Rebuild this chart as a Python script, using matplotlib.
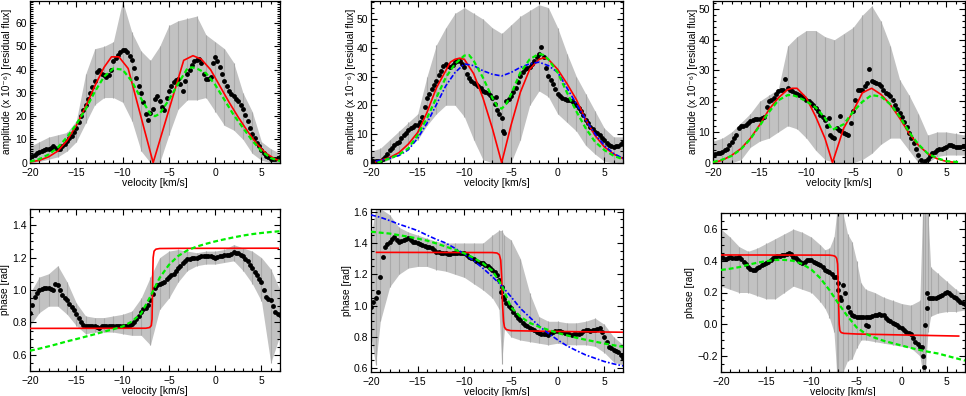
import numpy as np
import matplotlib
matplotlib.use('Agg')
import matplotlib.pyplot as plt
from matplotlib.ticker import MultipleLocator

plt.rcParams['font.family'] = ['Liberation Sans', 'DejaVu Sans']
plt.rcParams['font.size'] = 7.5

# velocity grid of the measured points (km/s), one point every 0.25 km/s
vel = np.arange(-20, 7.001, 0.25)

# ---------------- Panel 1 (top-left, amplitude) ----------------
p1_band_x = [-20, -19, -18, -17, -16, -15, -14, -13, -12, -11, -10, -9, -8, -7, -6, -5, -4, -3, -2, -1, 0, 1, 2, 3, 4, 5, 6, 7]
p1_band_hi = [7, 9, 11, 12, 13, 18, 38, 49, 50, 52, 69.5, 56, 48, 44, 50, 59, 61, 62, 63, 55, 52, 49, 43, 30, 22, 9, 6, 4]
p1_band_lo = [0, 0.5, 1.5, 2.5, 5, 9, 17, 25, 28, 28, 26, 18, 5, 0, 0, 12, 23, 27, 27, 28, 22, 16, 14, 10, 4, 1, 0, 0]
p1_dot_y = [2.4, 3, 3.5, 4,
            4.5, 5, 5.5, 5.8,
            6, 6.5, 7, 6.5,
            5.8, 6, 7, 8,
            9.5, 10.5, 11.5, 13,
            15, 17.5, 20, 22.5,
            25, 27.5, 30, 32.5,
            35, 39, 40, 38,
            37.5, 37, 37.5, 40,
            43.5, 45, 46.5, 47.5,
            48.5, 48.5, 47.5, 46,
            44, 40.5, 36.5, 33,
            30, 26, 21, 18.5,
            21.5, 23, 27.5, 28.5,
            26.5, 24, 22.5, 28,
            31, 33, 34.5, 35.5,
            36, 34, 31, 35,
            38, 40, 42, 43.5,
            44, 44.5, 43, 38,
            36, 36, 37, 43,
            45.5, 43.5, 41, 38,
            35, 33, 31, 29.5,
            28.5, 27.5, 26.5, 25,
            23, 20.5, 18, 15,
            12.5, 10.5, 8.5, 7,
            5.5, 4, 3, 2.3,
            1.8, 1.7, 1.8, 2,
            2.4]
p1_red_x = [-20, -19, -18, -17, -16, -15, -14, -13, -12, -11.2, -10.4, -9.4, -6.7, -3.4, -2.4, -1.5, -0.5, 0.5, 1.5, 2.5,
            3.5, 4.5, 5.5, 6.5, 7]
p1_red_y = [0.3, 1, 2.5, 5, 9.5, 16, 24, 33, 41, 45.5, 45.5, 40.5, 0, 44, 46, 44.5, 40, 33, 26, 19.5, 13.5, 8, 4, 1.5, 0.8]
p1_grn_x = [-20, -19, -18, -17, -16, -15, -14, -13, -12, -11, -10, -9, -8, -7, -6.5, -6, -5, -4, -3, -2.5, -2, -1, 0,
            1, 2, 3, 4, 5, 6, 7]
p1_grn_y = [0.5, 1.5, 3.5, 6.5, 11, 16.5, 23, 30.5, 37, 40.5, 40, 35, 27.5, 21, 20, 21, 27, 34, 40.5, 41, 40.5, 38.5,
            33.5, 27, 20.5, 15, 9.5, 5, 2, 0.7]

# ---------------- Panel 2 (top-middle, amplitude) ----------------
p2_band_x = [-20, -19, -18, -17, -16, -15, -14, -13, -12, -11, -10, -9, -8, -7, -6, -5, -4, -3, -2, -1, 0, 1, 2, 3, 4, 5, 6, 7]
p2_band_hi = [4, 5, 8, 11, 14, 17, 30, 41, 47, 52, 54, 52, 50, 47, 45, 48, 51, 53, 55, 54, 47, 38, 30, 24, 18, 12, 9, 9]
p2_band_lo = [0, 0, 1, 3, 6, 8, 13, 17, 20, 20, 16, 8, 1, 0, 0, 0, 8, 20, 25, 23, 17, 14, 11, 6, 3, 0.5, 0, 0]
p2_dot_y = [0.8, 0.6, 0.5, 0.5,
            0.5, 1.2, 2, 3.2,
            4.4, 5.2, 6, 6.7,
            7.3, 8.5, 9.6, 10.5,
            11.4, 12, 12.6, 13,
            13.2, 14, 16, 19.5,
            22.6, 24, 25.5, 27,
            28.5, 30.5, 32, 33.5,
            34.4, 33.5, 33.2, 34,
            35, 35.3, 35.5, 34.5,
            33.2, 31, 29.6, 28.5,
            27.9, 27.3, 26.7, 26,
            25, 24.7, 24.4, 23.5,
            22.6, 20.5, 18.5, 17,
            15.5, 10.5, 21.4, 22.3,
            23.2, 24.5, 26, 28,
            30.2, 31.5, 32.6, 33,
            33.2, 34.3, 35.5, 36.7,
            37.9, 40.2, 36.7, 33,
            30.2, 28.7, 27.3, 25.5,
            23.8, 23.2, 22.6, 22.3,
            22, 21.7, 21.4, 20.8,
            20.2, 19, 17.9, 16.5,
            15, 13.8, 12.6, 11.7,
            10.8, 10.2, 9.6, 8.7,
            7.9, 7, 6.1, 5.8,
            5.5, 5.7, 5.9, 6.5,
            7.3]
p2_ext_x = [-6.6, -5.9]
p2_ext_y = [23, 11]
p2_red_x = [-19.5, -19, -18, -17, -16, -15, -14, -13, -12, -11.5, -11, -10.5, -10, -9, -8, -7, -6, -5, -4, -3, -2, -1.5,
            -1, 0, 1, 2, 3, 4, 5, 6, 7]
p2_red_y = [0.3, 0.8, 1.8, 3.5, 6.5, 10.5, 17.5, 26, 32, 35, 36, 36.4, 36, 31, 22.5, 12, 0, 13, 24.5, 32.5, 36, 36.5, 36,
            32.5, 27.5, 22, 15, 9.5, 5.5, 3, 1.4]
p2_grn_x = [-19.3, -18, -17, -16, -15, -14, -13, -12, -11, -10, -9.5, -9, -8, -7, -6.5, -6, -5.5, -5, -4, -3, -2, -1.5,
            -1, 0, 1, 2, 3, 4, 5, 6, 7]
p2_grn_y = [0, 1.5, 2.8, 5, 9.6, 15.5, 22.6, 29.6, 34.4, 37.3, 37.5, 35.5, 29.6, 22.6, 19.8, 18.8, 20.5, 23.8, 31.4, 36,
            37.9, 37.5, 36, 31.4, 24.4, 17.9, 12, 7.3, 4.4, 2.4, 1.2]
p2_blu_x = [-19.5, -18, -17, -16, -15, -14, -13, -12, -11, -10, -9, -8, -7, -6, -5, -4, -3, -2, -1, 0, 1, 2, 3, 4, 5, 6, 7]
p2_blu_y = [0.5, 1.5, 2.5, 4.5, 8.5, 13.8, 20.2, 26.7, 31.4, 34.4, 33.8, 32, 30.8, 30.2, 31.4, 33.2, 34.4, 35, 33.8, 31.5,
            26, 20.5, 15, 10, 6, 3.2, 1.5]

# ---------------- Panel 3 (top-right, amplitude) ----------------
p3_band_x = [-20, -19, -18, -17, -16, -15, -14, -13, -12, -11, -10, -9, -8, -7, -6, -5, -4, -3, -2, -1, 0, 1, 2, 3, 4, 5, 6, 7]
p3_band_hi = [7, 8, 10, 13, 16, 20, 22, 24, 38, 41, 43, 43, 41, 40, 42, 44, 48, 51, 46, 38, 27, 22, 16, 9, 10, 10, 9.5, 9]
p3_band_lo = [0, 0, 0, 1, 5, 7, 8, 10, 12, 11, 8, 4, 1, 0, 0, 0, 1, 3, 6, 8, 8, 4, 0, 0, 2, 2.5, 2.5, 2.5]
p3_dot_y = [2.4, 2.7, 3, 3.2,
            3.5, 4, 4.6, 5.6,
            6.8, 8, 9, 11.2,
            11.8, 12, 12.3, 13,
            13.6, 14, 14.3, 14.3,
            14.3, 14.6, 15, 18,
            20, 20.5, 21.1, 22.2,
            23.3, 23.6, 23.8, 27.1,
            24.2, 23.8, 23.3, 22.7,
            22.2, 21.9, 21.6, 21,
            20.5, 20, 19.5, 18.7,
            17.8, 16.7, 15.6, 14.8,
            14, 12, 9, 8.5,
            7.9, 11.2, 10.7, 10.2,
            9.6, 9.3, 9, 13,
            16.7, 20.5, 23.8, 23.8,
            23.8, 25, 26, 30.4,
            26.6, 26.3, 26, 25.5,
            25, 23.8, 22.7, 22.2,
            21.6, 20.3, 18.9, 17.5,
            16.2, 14.8, 13.4, 11.5,
            9.6, 8, 6.3, 4.3,
            2.4, 0.8, -0.5, 0.5,
            1.3, 2.2, 3, 3.5,
            4, 4.3, 4.6, 4.9,
            5.2, 5.6, 5.9, 5.5,
            5.2, 5.2, 5.2, 5.3,
            5.5]
p3_ext_x = [-6.4, -7.6]
p3_ext_y = [15.2, 14.5]
p3_red_x = [-20, -19, -18, -17, -16, -15, -14, -13, -12, -11.5, -11, -10, -9, -8, -7.2, -6, -5, -4, -3.5, -3, -2, -1,
            0, 1, 2, 3, 4, 5, 6]
p3_red_y = [0, 0.8, 2.4, 4.6, 7.9, 12.3, 17.3, 21.1, 23.8, 24.2, 24.2, 21.1, 15, 7.9, 0, 11.2, 16.7, 22.7, 23.5, 24.2,
            22.2, 18.9, 14.5, 9.6, 5.7, 3, 1.3, 0.4, 0.1]
p3_grn_x = [-20, -19, -18, -17, -16, -15, -14, -13, -12, -11.5, -11, -10, -9, -8, -7.2, -6, -5, -4, -3, -2, -1, 0, 1,
            2, 3, 4, 5, 6.3]
p3_grn_y = [0.2, 1, 2.2, 4.4, 7.7, 12, 16.5, 20.3, 22, 22, 21.5, 20, 18, 14.5, 10.7, 12.5, 16.5, 19.8, 22, 21.5, 19, 15,
            10, 6, 3, 1.5, 0.5, 0.2]

# ---------------- Panel 4 (bottom-left, phase) ----------------
p4_band_x = [-20, -19, -18, -17, -16, -15, -14, -13, -12, -11, -10, -9, -8, -7, -6, -5, -4, -3, -2, -1, 0, 1, 2, 3, 4, 5, 6, 7]
p4_band_hi = [0.98, 1.08, 1.10, 1.15, 1.05, 0.92, 0.84, 0.83, 0.83, 0.84, 0.85, 0.87, 0.95, 1.08, 1.20, 1.24, 1.25,
              1.24, 1.23, 1.24, 1.24, 1.25, 1.28, 1.26, 1.24, 1.20, 1.13, 1.00]
p4_band_lo = [0.78, 0.86, 0.90, 0.90, 0.85, 0.78, 0.73, 0.74, 0.74, 0.74, 0.73, 0.72, 0.72, 0.66, 0.88, 0.95, 1.05,
              1.12, 1.15, 1.16, 1.16, 1.17, 1.18, 1.12, 1.04, 0.93, 0.55, 0.72]
p4_dot_y = [0.86, 0.91, 0.958, 0.98,
            1.0, 1.005, 1.01, 1.012,
            1.013, 1.005, 1.0, 1.04,
            1.03, 1.0, 0.968, 0.95,
            0.937, 0.915, 0.895, 0.875,
            0.853, 0.825, 0.80, 0.785,
            0.775, 0.78, 0.78, 0.778,
            0.775, 0.77, 0.764, 0.775,
            0.78, 0.78, 0.779, 0.779,
            0.779, 0.778, 0.777, 0.776,
            0.775, 0.777, 0.78, 0.785,
            0.79, 0.80, 0.82, 0.84,
            0.864, 0.88, 0.89, 0.91,
            0.937, 0.975, 1.01, 1.03,
            1.04, 1.045, 1.05, 1.065,
            1.08, 1.09, 1.10, 1.117,
            1.134, 1.15, 1.165, 1.178,
            1.19, 1.193, 1.196, 1.198,
            1.20, 1.204, 1.207, 1.207,
            1.207, 1.207, 1.207, 1.203,
            1.20, 1.204, 1.207, 1.212,
            1.217, 1.217, 1.217, 1.225,
            1.232, 1.23, 1.227, 1.217,
            1.207, 1.19, 1.176, 1.155,
            1.134, 1.11, 1.09, 1.07,
            1.05, 1.0, 0.957, 0.945,
            0.937, 0.90, 0.864, 0.85,
            0.843]
p4_red_x = [-20, -7.5, -7.1, -6.9, -6.82, -6.78, -6.74, -6.7, -6.6, -6.4, -6.0, -4, 6.8]
p4_red_y = [0.763, 0.764, 0.768, 0.78, 0.82, 0.95, 1.1, 1.2, 1.24, 1.252, 1.256, 1.257, 1.258]
p4_grn_x = [-20, -19, -18, -17, -16, -15, -14, -13, -12, -11, -10, -9, -8, -7, -6, -5, -4, -3, -2, -1, 0, 1, 2, 3, 4, 5, 6, 7]
p4_grn_y = [0.625, 0.638, 0.652, 0.667, 0.683, 0.697, 0.712, 0.727, 0.743, 0.758, 0.775, 0.805, 0.855, 0.96, 1.075,
            1.155, 1.21, 1.245, 1.268, 1.285, 1.30, 1.313, 1.325, 1.336, 1.345, 1.352, 1.358, 1.363]

# ---------------- Panel 5 (bottom-middle, phase) ----------------
p5_band_x = [-20, -19.5, -19, -18, -17, -16, -15, -14, -13, -12, -11, -10, -9, -8, -7, -6.3, -6, -5.7, -5, -4, -3, -2,
             -1, 0, 1, 2, 3, 4, 5, 6, 7]
p5_band_hi = [1.45, 1.62, 1.62, 1.58, 1.50, 1.47, 1.45, 1.43, 1.41, 1.40, 1.40, 1.40, 1.40, 1.40, 1.45, 1.48, 1.48,
              1.45, 1.42, 1.30, 1.08, 0.93, 0.90, 0.90, 0.89, 0.89, 0.90, 0.92, 0.88, 0.80, 0.75]
p5_band_lo = [0.80, 0.62, 0.90, 1.12, 1.20, 1.24, 1.25, 1.25, 1.23, 1.22, 1.20, 1.18, 1.14, 1.10, 1.05, 0.98, 0.63,
              0.85, 0.80, 0.78, 0.77, 0.76, 0.75, 0.76, 0.75, 0.75, 0.75, 0.74, 0.70, 0.64, 0.62]
p5_dot_y = [0.994, 1.02, 1.047, 1.09,
            1.185, 1.31, 1.377, 1.395,
            1.409, 1.425, 1.44, 1.42,
            1.409, 1.415, 1.42, 1.425,
            1.43, 1.42, 1.409, 1.405,
            1.40, 1.393, 1.387, 1.382,
            1.377, 1.372, 1.366, 1.355,
            1.345, 1.34, 1.338, 1.336,
            1.334, 1.332, 1.33, 1.334,
            1.338, 1.336, 1.334, 1.334,
            1.334, 1.323, 1.313, 1.305,
            1.296, 1.288, 1.28, 1.275,
            1.27, 1.262, 1.253, 1.24,
            1.228, 1.212, 1.196, 1.164,
            1.121, 1.04, 1.015, 1.0,
            0.983, 0.96, 0.94, 0.924,
            0.908, 0.892, 0.877, 0.868,
            0.86, 0.852, 0.845, 0.834,
            0.823, 0.821, 0.819, 0.816,
            0.813, 0.825, 0.834, 0.836,
            0.838, 0.836, 0.834, 0.828,
            0.823, 0.818, 0.813, 0.816,
            0.819, 0.821, 0.823, 0.835,
            0.845, 0.842, 0.84, 0.842,
            0.845, 0.85, 0.855, 0.83,
            0.80, 0.77, 0.738, 0.727,
            0.717, 0.712, 0.706, 0.685,
            0.664]
p5_ext_x = [-5.9, -6.1]
p5_ext_y = [1.057, 1.09]
p5_red_x = [-19.4, -7, -6.5, -6.25, -6.1, -6.0, -5.9, -5.8, -5.7, -5.5, -5.0, 0, 7]
p5_red_y = [1.34, 1.339, 1.336, 1.325, 1.29, 1.18, 1.0, 0.9, 0.862, 0.847, 0.840, 0.835, 0.830]
p5_grn_x = [-20, -19, -18, -17, -16, -15, -14, -13, -12, -11, -10, -9, -8, -7, -6, -5, -4, -3, -2, -1, 0, 1, 2, 3, 4, 5, 6, 7]
p5_grn_y = [1.472, 1.466, 1.46, 1.45, 1.44, 1.428, 1.415, 1.397, 1.377, 1.357, 1.334, 1.305, 1.27, 1.223, 1.13, 0.99,
            0.93, 0.89, 0.865, 0.845, 0.825, 0.81, 0.795, 0.782, 0.77, 0.758, 0.747, 0.737]
p5_blu_x = [-20, -19, -18, -17, -16, -15, -14, -13, -12, -11, -10, -9, -8, -7, -6, -5, -4, -3, -2, -1, 0, 1, 2, 3, 4, 5, 6, 7]
p5_blu_y = [1.579, 1.564, 1.543, 1.52, 1.50, 1.479, 1.45, 1.423, 1.40, 1.366, 1.33, 1.287, 1.238, 1.185, 1.126, 1.057,
            0.983, 0.926, 0.87, 0.823, 0.781, 0.743, 0.713, 0.685, 0.664, 0.643, 0.628, 0.615]

# ---------------- Panel 6 (bottom-right, phase) ----------------
p6_band_x = [-20, -19, -18, -17, -16, -15, -14, -13, -12, -11, -10, -9, -8.5, -8, -7.5, -7.2, -7, -6.5, -6, -5.5, -5,
             -4.5, -4, -3, -2, -1, 0, 1, 2, 2.3, 2.6, 2.9, 3.2, 4, 5, 6, 7]
p6_band_hi = [0.60, 0.55, 0.49, 0.46, 0.48, 0.51, 0.54, 0.57, 0.60, 0.58, 0.55, 0.50, 0.47, 0.48, 0.55, 0.70, 0.70,
              0.70, 0.57, 0.52, 0.40, 0.26, 0.22, 0.20, 0.17, 0.15, 0.13, 0.12, 0.15, 0.70, 0.70, 0.70, 0.36, 0.32,
              0.27, 0.22, 0.18]
p6_band_lo = [0.24, 0.22, 0.20, 0.20, 0.18, 0.16, 0.16, 0.20, 0.24, 0.22, 0.20, 0.14, 0.10, 0.04, -0.05, -0.30, -0.30,
              -0.30, -0.23, -0.22, -0.15, -0.10, -0.10, -0.11, -0.12, -0.13, -0.14, -0.15, -0.20, -0.30, -0.30, -0.05,
              0.05, 0.07, 0.08, 0.08, 0.09]
p6_dot_y = [0.437, 0.42, 0.41, 0.42,
            0.427, 0.42, 0.416, 0.42,
            0.423, 0.41, 0.395, 0.38,
            0.364, 0.35, 0.342, 0.345,
            0.353, 0.364, 0.374, 0.38,
            0.385, 0.395, 0.406, 0.417,
            0.427, 0.429, 0.431, 0.434,
            0.437, 0.443, 0.448, 0.44,
            0.427, 0.416, 0.406, 0.395,
            0.385, 0.395, 0.406, 0.406,
            0.406, 0.395, 0.385, 0.38,
            0.374, 0.358, 0.342, 0.337,
            0.332, 0.315, 0.30, 0.30,
            0.216, 0.15, 0.247, 0.195,
            0.11, 0.08, 0.058, 0.052,
            0.047, 0.045, 0.043, 0.043,
            0.043, 0.045, 0.047, 0.052,
            0.058, 0.061, 0.064, 0.061,
            0.058, 0.04, 0.026, 0.018,
            0.009, 0.0, -0.006, -0.016,
            -0.027, -0.037, -0.048, -0.053,
            -0.059, -0.085, -0.111, -0.127,
            -0.143, -0.143, -0.27, 0.1,
            0.163, 0.163, 0.163, 0.167,
            0.17, 0.177, 0.184, 0.195,
            0.205, 0.195, 0.184, 0.173,
            0.163, 0.152, 0.142, 0.135,
            0.127]
p6_ext_x = [-7.1, -6.85, 2.4, 2.6, 2.85, -3.9, -3.7]
p6_ext_y = [0.26, 0.17, -0.2, -0.006, 0.195, -0.006, -0.01]
p6_red_x = [-20, -8, -7.6, -7.35, -7.2, -7.1, -7.02, -6.97, -6.92, -6.85, -6.7, -6.4, -5, 0, 6.3]
p6_red_y = [0.437, 0.436, 0.433, 0.428, 0.415, 0.38, 0.25, 0.10, 0.0, -0.04, -0.053, -0.058, -0.062, -0.068, -0.075]
p6_grn_x = [-20, -19, -18, -17, -16, -15, -14, -13, -12, -11, -10, -9, -8, -7, -6, -5, -4, -3, -2, -1, 0, 1, 2, 3, 4, 5, 6, 7]
p6_grn_y = [0.342, 0.35, 0.36, 0.375, 0.388, 0.398, 0.405, 0.406, 0.40, 0.38, 0.345, 0.29, 0.215, 0.13, 0.05, -0.02,
            -0.06, -0.085, -0.105, -0.12, -0.135, -0.15, -0.163, -0.175, -0.185, -0.2, -0.215, -0.23]

AMP_LABEL = 'amplitude (x 10\u207b\u2076) [residual flux]'
PHASE_LABEL = 'phase [rad]'
X_LABEL = 'velocity [km/s]'

W, H = 966, 396
fig = plt.figure(figsize=(W / 100, H / 100), dpi=100)


def make_ax(x0, x1, y0, y1):
    return fig.add_axes([x0 / W, 1 - y1 / H, (x1 - x0) / W, (y1 - y0) / H])


def style(ax, ylim, ymaj, ymin, ylabel, ylab_x, xlab_y):
    ax.set_xlim(-20, 7)
    ax.set_ylim(*ylim)
    ax.xaxis.set_major_locator(MultipleLocator(5))
    ax.xaxis.set_minor_locator(MultipleLocator(1))
    ax.yaxis.set_major_locator(MultipleLocator(ymaj))
    ax.yaxis.set_minor_locator(MultipleLocator(ymin))
    ax.tick_params(which='both', direction='in', top=True, right=True, width=0.8, labelsize=7.5)
    ax.tick_params(which='major', length=4.5)
    ax.tick_params(which='minor', length=2.2)
    ax.tick_params(axis='x', pad=3.5)
    ax.tick_params(axis='y', pad=2.2)
    for s in ax.spines.values():
        s.set_linewidth(0.9)
    ax.set_xlabel(X_LABEL, fontsize=7.5)
    ax.xaxis.set_label_coords(0.5, xlab_y)
    ax.set_ylabel(ylabel, fontsize=7.3)
    ax.yaxis.set_label_coords(ylab_x, 0.5)


def draw(ax, bx, blo, bhi, dy, rx, ry, gx, gy, ex=None, ey=None, blx=None, bly=None):
    ax.fill_between(bx, blo, bhi, color='#c2c2c2', lw=0, zorder=1)
    ax.vlines(bx, blo, bhi, color='#a9a9a9', lw=0.8, zorder=1.5)
    ax.plot(vel, dy, 'o', color='black', ms=3.5, mec='none', zorder=3)
    if ex is not None:
        ax.plot(ex, ey, 'o', color='black', ms=3.5, mec='none', zorder=3)
    ax.plot(rx, ry, '-', color='#ff0000', lw=1.2, zorder=4)
    ax.plot(gx, gy, color='#00ee00', lw=1.6, dashes=(2.2, 1.3), zorder=5)
    if blx is not None:
        ax.plot(blx, bly, color='#0000ff', lw=1.2, dashes=(3, 1.2, 1, 1.2), zorder=4.5)


ax1 = make_ax(30, 280, 1, 162.7)
draw(ax1, p1_band_x, p1_band_lo, p1_band_hi, p1_dot_y, p1_red_x, p1_red_y, p1_grn_x, p1_grn_y)
style(ax1, (0, 69.5), 10, 1, AMP_LABEL, -0.07, -0.095)

ax2 = make_ax(371, 623, 1, 162.7)
draw(ax2, p2_band_x, p2_band_lo, p2_band_hi, p2_dot_y, p2_red_x, p2_red_y, p2_grn_x, p2_grn_y,
     p2_ext_x, p2_ext_y, p2_blu_x, p2_blu_y)
style(ax2, (0, 56.3), 10, 2, AMP_LABEL, -0.06, -0.095)

ax3 = make_ax(713, 965, 1, 162.7)
draw(ax3, p3_band_x, p3_band_lo, p3_band_hi, p3_dot_y, p3_red_x, p3_red_y, p3_grn_x, p3_grn_y,
     p3_ext_x, p3_ext_y)
style(ax3, (0, 52.6), 10, 2, AMP_LABEL, -0.06, -0.095)

ax4 = make_ax(30, 280, 209, 371)
draw(ax4, p4_band_x, p4_band_lo, p4_band_hi, p4_dot_y, p4_red_x, p4_red_y, p4_grn_x, p4_grn_y)
style(ax4, (0.5, 1.5), 0.2, 0.05, PHASE_LABEL, -0.08, -0.094)

ax5 = make_ax(371, 623, 209, 371.7)
draw(ax5, p5_band_x, p5_band_lo, p5_band_hi, p5_dot_y, p5_red_x, p5_red_y, p5_grn_x, p5_grn_y,
     p5_ext_x, p5_ext_y, p5_blu_x, p5_blu_y)
style(ax5, (0.578, 1.617), 0.2, 0.05, PHASE_LABEL, -0.075, -0.094)

ax6 = make_ax(721, 965, 213.3, 371.7)
draw(ax6, p6_band_x, p6_band_lo, p6_band_hi, p6_dot_y, p6_red_x, p6_red_y, p6_grn_x, p6_grn_y,
     p6_ext_x, p6_ext_y)
style(ax6, (-0.3, 0.7), 0.2, 0.05, PHASE_LABEL, -0.107, -0.094)

fig.savefig('out.png', dpi=100)
